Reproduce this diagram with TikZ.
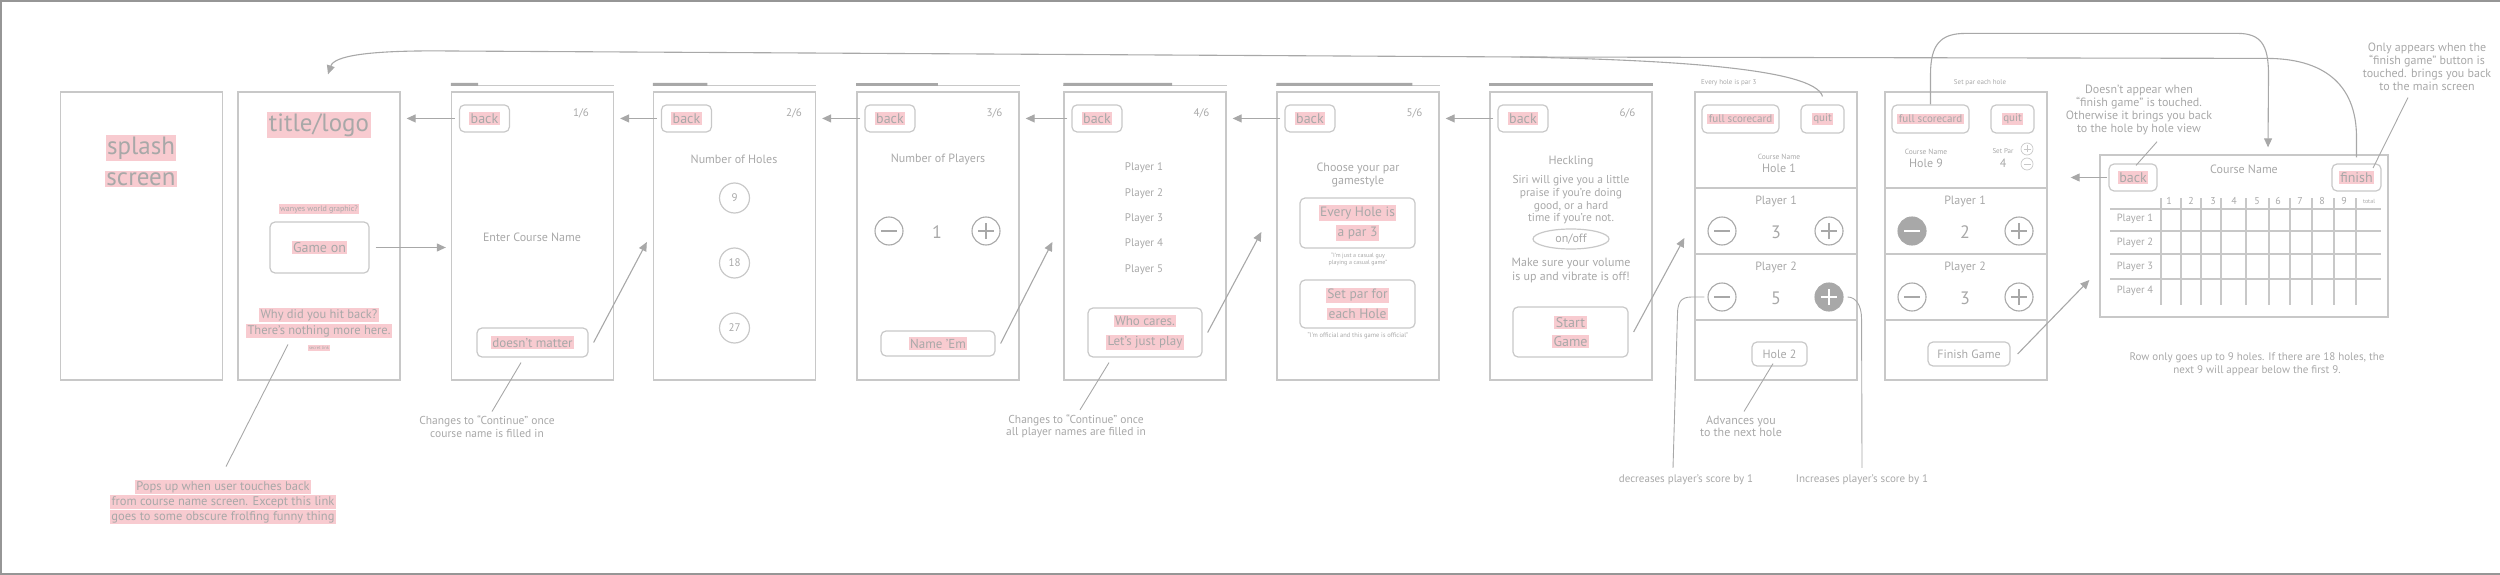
\documentclass[tikz,border=0pt]{standalone}
\usepackage{fontspec}
\setmainfont{PT Sans}
\usetikzlibrary{calc}
\usetikzlibrary{positioning}
\usetikzlibrary{arrows.meta,shapes.geometric}
\definecolor{wire}{RGB}{200,200,200}
\definecolor{ink}{RGB}{168,168,168}
\definecolor{hilite}{RGB}{248,203,208}
\definecolor{edge}{RGB}{150,150,150}
\newcommand{\hl}[1]{{\setlength{\fboxsep}{1.5pt}\colorbox{hilite}{#1}}}
\newcommand{\progressBar}[2]{
  \draw[wire, line width=1.3pt] ($(#1.north west)+(0,-6)$) -- ($(#1.north east)+(0,-6)$);
  \draw[ink, line width=3pt] ($(#1.north west)+(0,-7)$) -- ($(#1.north west)!#2!(#1.north east)+(0,-7)$);
}
\tikzset{
  pmbase/.style={circle, draw=ink, line width=1.1pt, minimum size=#1, inner sep=0pt},
  pmbase/.default=28pt,
  minusbar/.style n args={2}{path picture={\draw[#1] ([xshift=-#2]path picture bounding box.center) -- ([xshift=#2]path picture bounding box.center);}},
  plusbar/.style n args={2}{path picture={\draw[#1] ([xshift=-#2]path picture bounding box.center) -- ([xshift=#2]path picture bounding box.center) ([yshift=-#2]path picture bounding box.center) -- ([yshift=#2]path picture bounding box.center);}},
  minus/.style={pmbase, minusbar={ink, line width=1.1pt}{8pt}},
  plus/.style={pmbase, plusbar={ink, line width=1.1pt}{8pt}},
  minus filled/.style={pmbase, fill=ink, minusbar={white, line width=1.5pt}{8pt}},
  plus filled/.style={pmbase, fill=ink, plusbar={white, line width=1.5pt}{8pt}},
  minus small/.style={pmbase=12pt, draw=wire, line width=0.7pt, minusbar={wire, line width=0.7pt}{3.5pt}},
  plus small/.style={pmbase=12pt, draw=wire, line width=0.7pt, plusbar={wire, line width=0.7pt}{3.5pt}},
}

\begin{document}
\begin{tikzpicture}[x=1pt, y=-1pt,
  every node/.style={text=ink, inner sep=1pt},
  font=\fontsize{12}{14}\selectfont,
  fs/.style 2 args={font=\fontsize{#1}{#2}\selectfont},
  screen/.style={draw=wire, line width=1.3pt, minimum width=162pt, minimum height=288pt, inner sep=0pt},
  btn/.style={draw=wire, line width=1.2pt, rounded corners=5pt, inner sep=0pt, align=center},
  arrow/.style={draw=ink, line width=1.1pt, -{Triangle[length=9pt,width=8pt]}},
  leader/.style={draw=ink, line width=0.9pt},
  grid/.style={draw=wire, line width=1.3pt}]
  \useasboundingbox (0,0) rectangle (2500,575);
  \draw[edge, line width=2pt] (2500,1) -- (1,1) -- (1,574) -- (2500,574);

  % screens
  \node [screen] (splash) at (141.5,236) {};
  \node [screen] (title) at (319,236) {};
  \node [screen] (s1) at (532.5,236) {};
  \node [screen] (s2) at (734.5,236) {};
  \node [screen] (s3) at (938,236) {};
  \node [screen] (s4) at (1145,236) {};
  \node [screen] (s5) at (1358,236) {};
  \node [screen] (s6) at (1571,236) {};
  \node [screen] (p1) at (1776,236) {};
  \node [screen] (p2) at (1966,236) {};
  \node [screen, minimum width=288pt, minimum height=162pt] (card) at (2244,236) {};

  \foreach \s/\gap [count=\k] in {s1/24,s2/13,s3/16,s4/16,s5/16,s6/16} {
    \progressBar{\s}{\k/6}
    \node [btn, anchor=north west, minimum width=50pt, minimum height=27pt, fs={14}{16}] (back\k) at ($(\s.north west)+(8,13)$) {\hl{back}};
    \node [fs={11}{13}, anchor=east] (page\k) at ($(\s.north east)+(-\gap,22)$) {\k/6};
  }
  \foreach \prev/\k in {title/1,s1/2,s2/3,s3/4,s4/5,s5/6}
    \draw[arrow] ([xshift=-4pt]back\k.west) -- ($(\prev.east |- back\k.west)+(6,0)$);

  % splash and title
  \node [fs={25}{31}, align=center] (splashtxt) at (141,161) {\hl{splash}\\\hl{screen}};
  \node [fs={25}{31}] (logo) at (319,125) {\hl{title/logo}};
  \node [fs={8}{9}] (wayne) at (319,209) {\hl{wanyes world graphic?}};
  \node [btn, minimum width=99pt, minimum height=51pt, fs={14}{16}] (gameon) at (319.5,247.5) {\hl{Game on}};
  \node [fs={12.5}{16}, align=center] (why) at (319,323) {\hl{Why did you hit back?}\\\hl{There's nothing more here.}};
  \node [fs={4.5}{5}] (secret) at (319,348) {\hl{secret link}};
  \node [fs={12.5}{15}, align=center] (popup) at (223,502) {\hl{Pops up when user touches back}\\\hl{from course name screen. Except this link}\\\hl{goes to some obscure frolfing funny thing}};
  \draw[leader] ($(why.south)+(-31,5)$) -- ($(popup.north)+(3,-12)$);
  \draw[arrow] ([xshift=6pt]gameon.east) -- ($(s1.west |- gameon.east)+(-5,0)$);

  % 1/6
  \node (course) at (532,237) {Enter Course Name};
  \node [btn, minimum width=111pt, minimum height=29pt, fs={13}{15}] (dm) at (532.5,342.5) {\hl{doesn't matter}};
  \node [fs={11.5}{12.5}, align=center] (note1) at (487,426.5) {Changes to ``Continue'' once\\course name is filled in};
  \draw[leader] ($(dm.south)+(-11.5,5)$) -- ($(note1.north)+(5,-3)$);
  \draw[arrow] ([xshift=5pt]dm.east) -- ($(s2.west)+(-6,6)$);

  % 2/6
  \node (holes) at (734,159) {Number of Holes};
  \foreach \n/\y in {9/198,18/263,27/328}
    \node [circle, draw=wire, line width=1.2pt, minimum size=30pt, inner sep=0pt, fs={11}{13}] (hole\n) at (734.5,\y) {\n};

  % 3/6
  \node (players) at (938,159) {Number of Players};
  \node [minus] (m3) at (889,231) {};
  \node [fs={18}{20}] (count3) at (937,232) {1};
  \node [plus] (p3) at (986,231) {};
  \node [btn, minimum width=114pt, minimum height=25pt, fs={13}{15}] (nameem) at (938,343.5) {\hl{Name 'Em}};
  \draw[arrow] ([xshift=5pt]nameem.east) -- ($(s4.west)+(-11,6)$);

  % 4/6
  \foreach \i in {1,...,5}
    \node [fs={11}{13}] (pl\i) at (1144,{168+25.4*(\i-1)}) {Player \i};
  \node [btn, minimum width=114pt, minimum height=49pt, fs={13}{20}] (whocares) at (1145,332.5) {\hl{Who cares.}\\\hl{Let's just play}};
  \node [fs={11.5}{12.5}, align=center] (note4) at (1076,426) {Changes to ``Continue'' once\\all player names are filled in};
  \draw[leader] ($(whocares.south)+(-36,5)$) -- ($(note4.north)+(4,-3)$);
  \draw[arrow] ([xshift=5pt]whocares.east) -- ($(s5.west)+(-15,-4)$);

  % 5/6
  \node [fs={12}{13}, align=center] (parstyle) at (1358,174.5) {Choose your par\\gamestyle};
  \node [btn, minimum width=115pt, minimum height=50pt, fs={13.5}{20}] (everyhole) at (1357.5,223) {\hl{Every Hole is}\\\hl{a par 3}};
  \node [fs={6}{7}, align=center] (casual) at (1358,259.5) {``I'm just a casual guy\\playing a casual game''};
  \node [btn, minimum width=115pt, minimum height=48pt, fs={13.5}{20}] (setpar) at (1357.5,304) {\hl{Set par for}\\\hl{each Hole}};
  \node [fs={6.5}{7}] (official) at (1358,336) {``I'm official and this game is official''};

  % 6/6
  \node (heckling) at (1571,162) {Heckling};
  \node [fs={11.5}{12.7}, align=center] (siri) at (1571,200) {Siri will give you a little\\praise if you're doing\\good, or a hard\\time if you're not.};
  \node [ellipse, draw=wire, line width=1.2pt, minimum width=76pt, minimum height=20pt, inner sep=0pt] (onoff) at (1571,239) {on/off};
  \node [fs={12}{14}, align=center] (volume) at (1571,270) {Make sure your volume\\is up and vibrate is off!};
  \node [btn, minimum width=115pt, minimum height=50pt, fs={14}{19}] (start) at (1570.5,332) {\hl{Start}\\\hl{Game}};
  \draw[arrow] ([xshift=5pt]start.east) -- ($(p1.west)+(-10,2)$);

  % hole by hole
  \foreach \p in {p1,p2}
    \foreach \y in {188,254,320}
      \draw[grid] (\p.west |- 0,\y) -- (\p.east |- 0,\y);

  \node [fs={7}{8}, anchor=west] (every) at (1700,83) {Every hole is par 3};
  \node [btn, minimum width=77pt, minimum height=28pt, fs={11}{13}] (full1) at (1740.5,119) {\hl{full scorecard}};
  \node [btn, minimum width=43pt, minimum height=28pt, fs={11}{13}] (quit1) at (1822.5,119) {\hl{quit}};
  \node [fs={7.5}{8}] (cname1) at (1779,157) {Course Name};
  \node [fs={12}{14}] (hole1) at (1779,168) {Hole 1};
  \node (pa1) at (1776,201) {Player 1};
  \node [minus] (m11) at (1722,231) {};
  \node [fs={18}{20}] (sc11) at (1776,232) {3};
  \node [plus] (p11) at (1829,231) {};
  \node (pa2) at (1776,267) {Player 2};
  \node [minus] (m12) at (1722,297) {};
  \node [fs={18}{20}] (sc12) at (1776,298) {5};
  \node [plus filled] (p12) at (1829,297) {};
  \node [btn, minimum width=55pt, minimum height=24pt] (hole2) at (1779.5,354) {Hole 2};
  \node [align=center, fs={12}{12}] (advance) at (1741,426) {Advances you\\to the next hole};
  \draw[leader] ($(hole2.south)+(-6.5,-3)$) -- ($(advance.north)+(3,-3)$);
  \node [fs={11}{13}] (decrease) at (1686,480) {decreases player's score by 1};
  \node [fs={11}{13}] (increase) at (1862,480) {Increases player's score by 1};
  \draw[leader] ([xshift=-3pt]m12.west) -- ++(-13,0) .. controls +(-11,0) and +(0,-12) .. ++(-14,18) -- ($(decrease.north)+(-13,-6)$);
  \draw[leader] ([xshift=4pt]p12.east) .. controls +(8,0) and +(0,-14) .. ++(14,22) -- ($(increase.north)+(0,-6)$);

  \node [fs={7}{8}] (setparall) at (1980,83) {Set par each hole};
  \node [btn, minimum width=77pt, minimum height=28pt, fs={11}{13}] (full2) at (1930.5,119) {\hl{full scorecard}};
  \node [btn, minimum width=43pt, minimum height=28pt, fs={11}{13}] (quit2) at (2012.5,119) {\hl{quit}};
  \node [fs={7.5}{8}] (cname2) at (1926,152) {Course Name};
  \node [fs={12}{14}] (hole9) at (1926,163) {Hole 9};
  \node [fs={7}{8}] (setpartxt) at (2003,151) {Set Par};
  \node [fs={12}{14}] (par4) at (2003,163) {4};
  \node [plus small] (ps2) at (2027,149) {};
  \node [minus small] (ms2) at (2027,164) {};
  \node (pb1) at (1965,201) {Player 1};
  \node [minus filled] (m21) at (1912,231) {};
  \node [fs={18}{20}] (sc21) at (1965,232) {2};
  \node [plus] (p21) at (2019,231) {};
  \node (pb2) at (1965,267) {Player 2};
  \node [minus] (m22) at (1912,297) {};
  \node [fs={18}{20}] (sc22) at (1965,298) {3};
  \node [plus] (p22) at (2019,297) {};
  \node [btn, minimum width=82pt, minimum height=24pt] (finishgame) at (1969,354) {Finish Game};
  \draw[arrow] ([xshift=7pt]finishgame.east) -- ($(card.west)+(-10,44)$);

  % scorecard
  \node [btn, minimum width=48pt, minimum height=27pt, fs={14}{16}] (cback) at (2133,177.5) {\hl{back}};
  \node [btn, minimum width=49pt, minimum height=27pt, fs={14}{16}] (finish) at (2356.5,177.5) {\hl{finish}};
  \node (cardname) at (2244,169) {Course Name};
  \foreach \y in {209,231,254,279}
    \draw[grid] (2110,\y) -- (2381,\y);
  \foreach \x in {2161,2181,2201,2221,2246,2269,2290,2312,2334,2356}
    \draw[grid] (\x,198) -- (\x,305);
  \foreach \x [count=\n] in {2169,2191,2213,2234,2257,2278,2300,2322,2344}
    \node [fs={10}{12}] (col\n) at (\x,201) {\n};
  \node [fs={6}{7}] (total) at (2369,201) {total};
  \foreach \y [count=\i] in {219,243,267,291}
    \node [fs={10.5}{12}] (row\i) at (2135,\y) {Player \i};
  \draw[arrow] ([xshift=-1pt]cback.west) -- ($(p2.east |- cback.west)+(23,0)$);
  \node [align=center, fs={12}{12.7}] (noteback) at (2139,110) {Doesn't appear when\\``finish game'' is touched.\\Otherwise it brings you back\\to the hole by hole view};
  \draw[leader] ($(noteback.south)+(18,6)$) -- ($(cback.north)+(3,2)$);
  \node [align=center, fs={12}{13}] (notefinish) at (2427,66.5) {Only appears when the\\``finish game'' button is\\touched. brings you back\\to the main screen};
  \draw[leader] ($(notefinish.south)+(-19,6)$) -- ($(finish.center)+(16.5,-9.5)$);
  \node [align=center, fs={11}{13}] (rownote) at (2257,364.5) {Row only goes up to 9 holes. If there are 18 holes, the\\next 9 will appear below the first 9.};

  % long connectors on top
  \coordinate (merge) at (1520,57);
  \draw[arrow] ([yshift=8pt]quit1.north) .. controls +(-8,-28) and +(150,3) .. (merge) -- ++(-1070,-6) .. controls +(-85,-1) and +(6,-18) .. ($(title.north)+(9,-17)$);
  \draw[leader, line width=1.1pt] ([yshift=6pt]finish.north) -- ++(0,-20) .. controls +(0,-55) and +(55,0) .. ++(-90,-79) -- (merge);
  \draw[arrow] (full2.north) -- ++(0,-30) .. controls +(0,-30) and +(-25,0) .. ++(35,-41) -- ++(272,0) .. controls +(23,0) and +(0,-30) .. ++(31,41) -- ($(card.north)+(24,-7)$);
\end{tikzpicture}
\end{document}
